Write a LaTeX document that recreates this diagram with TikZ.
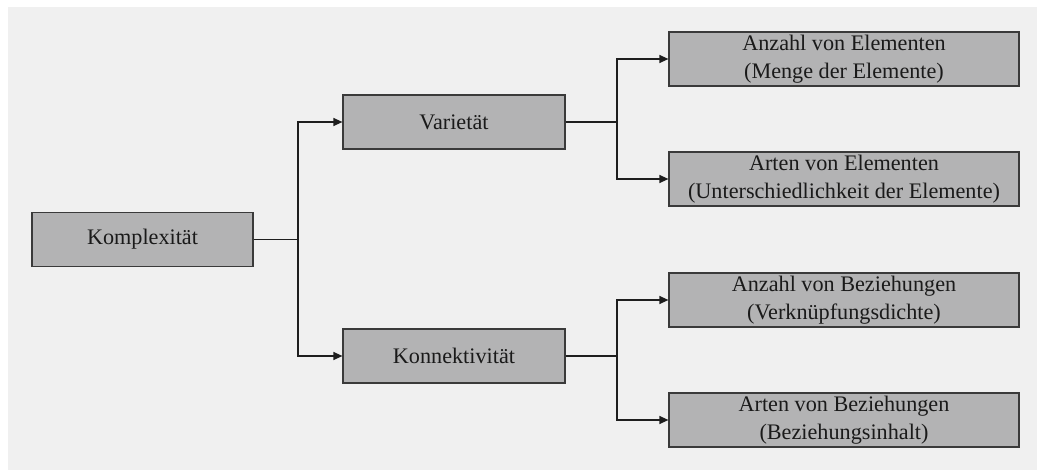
\documentclass[tikz,border=0pt]{standalone}
\usepackage{fontspec}
\setmainfont{Liberation Serif}
\usetikzlibrary{arrows.meta}
\definecolor{bgcol}{HTML}{F0F0F0}
\definecolor{boxfill}{HTML}{B3B3B4}
\definecolor{boxline}{HTML}{3A3A3A}
\definecolor{linecol}{HTML}{1E1E1E}
\definecolor{textcol}{HTML}{1A1A1A}
\begin{document}
\begin{tikzpicture}[x=1pt,y=-1pt,
  box/.style={draw=boxline,line width=1.2pt,fill=boxfill,minimum height=54pt,
    inner sep=0pt,align=center,font=\fontsize{22.2}{28}\selectfont,text=textcol},
  conn/.style={draw=linecol,line width=1.2pt},
  arr/.style={conn,-{Triangle[length=9pt,width=8pt]}}]
  \useasboundingbox (0,0) rectangle (1037,470);
  \fill[white] (0,0) rectangle (1037,470);
  \fill[bgcol] (8,7) rectangle (1037,470);
  % nodes
  \node[box,minimum width=221pt] (k) at (142.5,239.5) {Komplexität};
  \node[box,minimum width=222pt] (v) at (454,122) {Varietät};
  \node[box,minimum width=222pt] (c) at (454,356) {Konnektivität};
  \node[box,minimum width=350pt] (a1) at (844,59) {Anzahl von Elementen\\(Menge der Elemente)};
  \node[box,minimum width=350pt] (a2) at (844,179) {Arten von Elementen\\(Unterschiedlichkeit der Elemente)};
  \node[box,minimum width=350pt] (b1) at (844,300) {Anzahl von Beziehungen\\(Verknüpfungsdichte)};
  \node[box,minimum width=350pt] (b2) at (844,420) {Arten von Beziehungen\\(Beziehungsinhalt)};
  % junction points
  \coordinate (j1) at (298,239.5);
  \coordinate (j2) at (617,122);
  \coordinate (j3) at (617,356);
  % connectors
  \draw[conn] (k.east) -- (j1);
  \draw[arr] (j1) |- (v.west);
  \draw[arr] (j1) |- (c.west);
  \draw[conn] (v.east) -- (j2);
  \draw[arr] (j2) |- (a1.west);
  \draw[arr] (j2) |- (a2.west);
  \draw[conn] (c.east) -- (j3);
  \draw[arr] (j3) |- (b1.west);
  \draw[arr] (j3) |- (b2.west);
\end{tikzpicture}
\end{document}
